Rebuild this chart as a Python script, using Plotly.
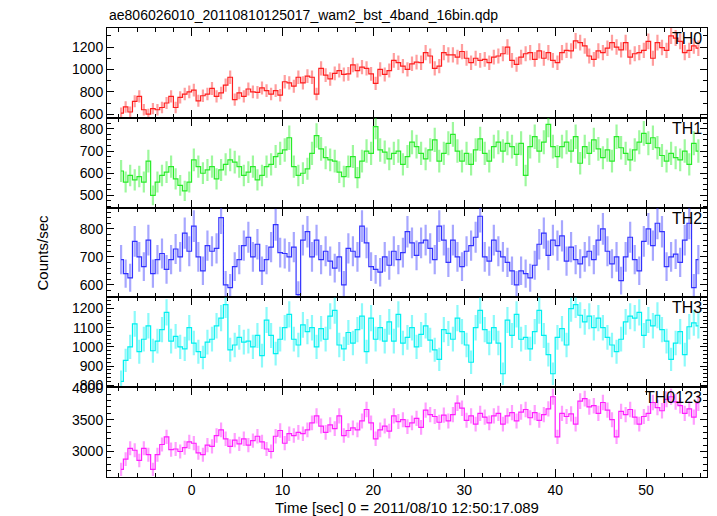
import numpy as np
import plotly.graph_objects as go
from plotly.subplots import make_subplots

# ---------------- data ----------------
T_START = -8.0      # s, start of first bin
BIN_S = 0.5         # s, bin width used here
ERR_EXPO = 0.25     # s, exposure per original bin (Poisson errors)

th0 = [610, 665, 620, 715, 760, 640, 600, 650,
       640, 660, 700, 760, 660, 750, 780, 800,
       815, 720, 765, 780, 830, 760, 790, 860,
       930, 730, 790, 760, 825, 800, 795, 835,
       810, 780, 810, 770, 890, 880, 850, 930,
       880, 940, 930, 780, 1010, 950, 915, 965,
       990, 955, 960, 1040, 990, 1020, 1010, 960,
       875, 1000, 955, 990, 1080, 1060, 1030, 1000,
       1050, 1065, 1060, 1150, 1120, 1010, 1030, 1150,
       1130, 1130, 1110, 1160, 1100, 1060, 1100, 1080,
       1090, 1060, 1110, 1120, 1140, 1200, 1080, 1045,
       1110, 1140, 1150, 1090, 1165, 1100, 1150, 1080,
       1060, 1150, 1170, 1165, 1255, 1240, 1210, 1120,
       1090, 1165, 1150, 1190, 1240, 1200, 1175, 1240,
       1110, 1140, 1150, 1170, 1250, 1100, 1240, 1195,
       1170, 1300, 1280, 1250, 1150, 1170, 1210, 1190]

th1 = [610, 560, 590, 570, 585, 560, 655, 500,
       560, 590, 605, 630, 575, 545, 520, 560,
       660, 630, 600, 615, 630, 575, 615, 640,
       660, 650, 630, 590, 605, 630, 570, 590,
       630, 640, 675, 690, 705, 760, 630, 590,
       600, 620, 690, 770, 710, 670, 660, 655,
       605, 585, 630, 675, 580, 655, 700, 690,
       810, 705, 695, 665, 690, 700, 640, 675,
       740, 720, 690, 665, 705, 750, 655, 690,
       735, 775, 700, 655, 690, 640, 705, 755,
       690, 655, 720, 740, 700, 735, 720, 685,
       735, 590, 720, 765, 700, 740, 820, 720,
       675, 720, 740, 700, 765, 645, 720, 690,
       750, 710, 670, 705, 655, 765, 715, 690,
       660, 705, 740, 780, 735, 760, 715, 680,
       655, 690, 670, 660, 700, 640, 735, 700]

th2 = [690, 640, 625, 755, 700, 665, 760, 640,
       690, 712, 655, 690, 728, 700, 785, 720,
       810, 700, 650, 740, 720, 730, 840, 600,
       590, 665, 690, 740, 770, 700, 745, 650,
       690, 735, 815, 715, 712, 700, 735, 565,
       760, 790, 700, 760, 690, 720, 685, 660,
       700, 600, 730, 720, 700, 810, 750, 665,
       655, 645, 700, 670, 720, 690, 715, 790,
       750, 705, 750, 760, 730, 690, 810, 760,
       680, 760, 700, 665, 720, 740, 770, 845,
       700, 685, 760, 720, 700, 680, 650, 600,
       650, 640, 625, 670, 745, 785, 705, 760,
       740, 775, 685, 735, 690, 675, 700, 720,
       690, 760, 800, 720, 675, 700, 615, 700,
       770, 690, 650, 755, 800, 740, 820, 790,
       665, 700, 710, 680, 760, 820, 590, 690]

th3 = [820, 930, 1000, 1120, 975, 1040, 1110, 980,
       1030, 1090, 1180, 1030, 1055, 1000, 990, 1100,
       1020, 975, 945, 1025, 1040, 1110, 1150, 1220,
       985, 1010, 1050, 1025, 1030, 1000, 1060, 955,
       1140, 1060, 965, 1040, 1100, 1170, 1040, 1010,
       1115, 1080, 1100, 1000, 1095, 1040, 1160, 1190,
       1010, 990, 1075, 1020, 1090, 1160, 975, 1150,
       1040, 1100, 1030, 1130, 1030, 1170, 1020, 1050,
       1100, 1000, 1065, 1110, 1035, 985, 935, 1090,
       1070, 1040, 1150, 1080, 1010, 920, 1100, 1190,
       1090, 1020, 1100, 1020, 860, 1140, 1060, 1170,
       1040, 1050, 990, 1080, 1190, 1060, 960, 860,
       1050, 1095, 1010, 1200, 1220, 1165, 1130, 1160,
       1100, 1150, 1100, 1050, 1010, 975, 1040, 1130,
       1160, 1150, 1180, 1060, 1140, 1110, 1165, 1090,
       1030, 935, 1020, 1080, 960, 1105, 1125, 1110]

th0123 = [2720, 2880, 3050, 3020, 2860, 3050, 2950, 2720,
          2950, 3110, 3230, 3030, 3040, 3000, 3060, 3150,
          3130, 2980, 2950, 3100, 3080, 3250, 3340, 3200,
          3080, 3180, 3120, 3200, 3100, 3170, 3240, 3150,
          3040, 3000, 3240, 3330, 3130, 3280, 3250, 3300,
          3280, 3340, 3450, 3560, 3400, 3300, 3420, 3360,
          3560, 3250, 3330, 3370, 3340, 3480, 3660, 3450,
          3200, 3340, 3400, 3320, 3560, 3470, 3500, 3390,
          3450, 3520, 3380, 3650, 3580, 3550, 3460, 3570,
          3480, 3580, 3760, 3680, 3490, 3560, 3430, 3600,
          3540, 3450, 3560, 3600, 3430, 3560, 3610, 3480,
          3620, 3660, 3530, 3610, 3490, 3580, 3670, 3860,
          3230, 3600, 3550, 3590, 3430, 3790, 3830, 3700,
          3720, 3600, 3770, 3650, 3500, 3230, 3630, 3580,
          3660, 3540, 3430, 3550, 3600, 3770, 3690, 3640,
          3820, 3860, 3780, 3720, 3600, 3670, 3540, 3760]

panel_names = ["TH0", "TH1", "TH2", "TH3", "TH0123"]
series = [th0, th1, th2, th3, th0123]
line_colors = ["rgb(255,30,30)", "rgb(40,235,40)", "rgb(50,50,255)",
               "rgb(0,240,240)", "rgb(255,30,255)"]
err_colors = ["rgba(255,40,40,0.45)", "rgba(40,240,40,0.45)", "rgba(60,60,255,0.45)",
              "rgba(0,245,245,0.45)", "rgba(255,40,255,0.45)"]
y_ranges = [[568, 1370], [445, 850], [555, 876], [790, 1258], [2600, 4010]]
y_dticks = [200, 100, 100, 100, 500]
y_minor = [100, 25, 20, 20, 100]
x_range = [-9.3, 56.7]

title_text = "ae806026010_20110810125017_wam2_bst_4band_16bin.qdp"
x_title = "Time [sec] 0 = 2011/08/10 12:50:17.089"
y_title = "Counts/sec"

# ---------------- figure ----------------
FONT = "Liberation Sans, Arial, Helvetica, sans-serif"
fig = make_subplots(rows=5, cols=1, shared_xaxes=True, vertical_spacing=0)

for i, (vals, name) in enumerate(zip(series, panel_names)):
    v = np.array(vals, dtype=float)
    t = T_START + BIN_S * (np.arange(len(v)) + 0.5)
    err = np.sqrt(v / ERR_EXPO)
    fig.add_trace(go.Scatter(
        x=t, y=v, mode="lines", line=dict(shape="hvh", color=line_colors[i], width=1.2),
        error_y=dict(type="data", array=err, visible=True, color=err_colors[i],
                     thickness=2.2, width=0),
        showlegend=False, name=name), row=i + 1, col=1)

    fig.update_yaxes(row=i + 1, col=1, range=y_ranges[i], dtick=y_dticks[i], tick0=0,
                     ticks="inside", ticklen=7, tickcolor="black", tickwidth=1,
                     minor=dict(dtick=y_minor[i], tick0=0, ticks="inside", ticklen=4,
                                tickcolor="black"),
                     showline=True, linecolor="black", linewidth=1, mirror="ticks",
                     showgrid=False, zeroline=False,
                     tickfont=dict(family=FONT, size=14, color="black"))
    fig.update_xaxes(row=i + 1, col=1, range=x_range, dtick=10, tick0=0,
                     ticks="inside", ticklen=8, tickcolor="black", tickwidth=1,
                     minor=dict(dtick=2, tick0=0, ticks="inside", ticklen=4,
                                tickcolor="black"),
                     showline=True, linecolor="black", linewidth=1, mirror="ticks",
                     showgrid=False, zeroline=False,
                     tickfont=dict(family=FONT, size=14, color="black"))

    yref = "y domain" if i == 0 else f"y{i + 1} domain"
    fig.add_annotation(text=name, xref="paper", x=0.995, xanchor="right",
                       yref=yref, y=1, yanchor="top", yshift=0, showarrow=False,
                       font=dict(family=FONT, size=16, color="black"))

fig.add_annotation(text=title_text, xref="paper", x=0, xanchor="left",
                   yref="paper", y=1, yanchor="bottom", yshift=3, showarrow=False,
                   font=dict(family=FONT, size=14, color="black"))
fig.add_annotation(text=x_title, xref="paper", x=0.5, xanchor="center",
                   yref="paper", y=0, yanchor="middle", yshift=-30, showarrow=False,
                   font=dict(family=FONT, size=15, color="black"))
fig.add_annotation(text=y_title, xref="paper", x=0, xanchor="center", xshift=-65,
                   yref="paper", y=0.5, yanchor="middle", textangle=-90, showarrow=False,
                   font=dict(family=FONT, size=15, color="black"))

# the page body adds an 8 px offset, so the figure is 8 px smaller on each axis
fig.update_layout(width=709, height=508, paper_bgcolor="white", plot_bgcolor="white",
                  margin=dict(l=99, r=10, t=20, b=39), showlegend=False)

fig.write_html("out.html")
